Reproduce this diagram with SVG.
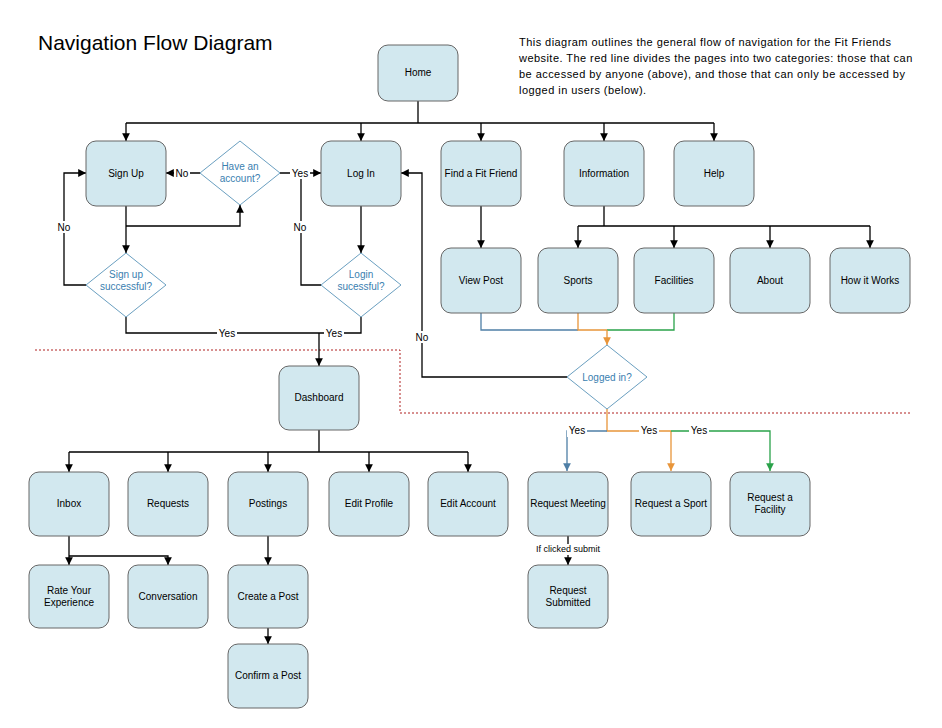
<svg xmlns="http://www.w3.org/2000/svg" width="942" height="728" viewBox="0 0 942 728">
<defs>
<marker id="a" viewBox="0 0 10 10" refX="10" refY="5" markerWidth="6" markerHeight="6" orient="auto"><path d="M0,0L10,5L0,10z" fill="#000"/></marker>
<marker id="ab" viewBox="0 0 10 10" refX="10" refY="5" markerWidth="6" markerHeight="6" orient="auto"><path d="M0,0L10,5L0,10z" fill="#4f7fa6"/></marker>
<marker id="ao" viewBox="0 0 10 10" refX="10" refY="5" markerWidth="6" markerHeight="6" orient="auto"><path d="M0,0L10,5L0,10z" fill="#e8953a"/></marker>
<marker id="ag" viewBox="0 0 10 10" refX="10" refY="5" markerWidth="6" markerHeight="6" orient="auto"><path d="M0,0L10,5L0,10z" fill="#2aa24a"/></marker>
</defs>
<style>
text{font-family:"Liberation Sans",Arial,sans-serif;font-size:10px;fill:#000}
.n rect{fill:#d2e8ef;stroke:#666;stroke-width:1}
.n text{text-anchor:middle}
.d polygon{fill:#fff;stroke:#6a9fc0;stroke-width:1}
.d text{text-anchor:middle;fill:#3a80b0}
.c path{fill:none;stroke:#000;stroke-width:1.3}
.lb{text-anchor:middle;font-size:10px}
.lbg{fill:#fff}
.ds{font-size:11px;letter-spacing:0.45px}
</style>
<rect width="942" height="728" fill="#fff"/>
<text x="38" y="50" style="font-size:21px">Navigation Flow Diagram</text>
<text class="ds" x="519" y="46">This diagram outlines the general flow of navigation for the Fit Friends</text>
<text class="ds" x="519" y="62">website.  The red line divides the pages into two categories: those that can</text>
<text class="ds" x="519" y="78">be accessed by anyone (above), and those that can only be accessed by</text>
<text class="ds" x="519" y="94">logged in users (below).</text>
<path d="M35,350H400V413H912" fill="none" stroke="#b02020" stroke-width="1" stroke-dasharray="2,2"/>

<g class="c" id="connectors">
<path d="M418,101V123M126,123H714M126,123V141" marker-end="url(#a)"/>
<path d="M361,123V141" marker-end="url(#a)"/>
<path d="M481,123V141" marker-end="url(#a)"/>
<path d="M604,123V141" marker-end="url(#a)"/>
<path d="M714,123V141" marker-end="url(#a)"/>
<path d="M200,173H166" marker-end="url(#a)"/>
<path d="M280,173H321" marker-end="url(#a)"/>
<path d="M126,206V253" marker-end="url(#a)"/>
<path d="M126,226H240V205" marker-end="url(#a)"/>
<path d="M86,285H64V173H86" marker-end="url(#a)"/>
<path d="M361,206V253" marker-end="url(#a)"/>
<path d="M321,285H301V173"/>
<path d="M126,317V333H361V317"/>
<path d="M319,333V366" marker-end="url(#a)"/>
<path d="M481,206V248" marker-end="url(#a)"/>
<path d="M604,206V226M578,226H870M578,226V248" marker-end="url(#a)"/>
<path d="M674,226V248" marker-end="url(#a)"/>
<path d="M770,226V248" marker-end="url(#a)"/>
<path d="M870,226V248" marker-end="url(#a)"/>
<path d="M481,313V330H578" style="stroke:#4f7fa6"/>
<path d="M578,313V330H607" style="stroke:#e8953a"/>
<path d="M674,313V330H607" style="stroke:#2aa24a"/>
<path d="M607,330V345" style="stroke:#e8953a" marker-end="url(#ao)"/>
<path d="M567,377H422V173H401" marker-end="url(#a)"/>
<path d="M607,409V431H671" style="stroke:#e8953a"/>
<path d="M671,431V471" style="stroke:#e8953a" marker-end="url(#ao)"/>
<path d="M607,431H567V471" style="stroke:#4f7fa6" marker-end="url(#ab)"/>
<path d="M671,431H770V471" style="stroke:#2aa24a" marker-end="url(#ag)"/>
<path d="M319,430V452M69,452H468M69,452V472" marker-end="url(#a)"/>
<path d="M168,452V472" marker-end="url(#a)"/>
<path d="M268,452V472" marker-end="url(#a)"/>
<path d="M369,452V472" marker-end="url(#a)"/>
<path d="M468,452V472" marker-end="url(#a)"/>
<path d="M69,536V565" marker-end="url(#a)"/>
<path d="M69,556H168V565" marker-end="url(#a)"/>
<path d="M268,536V565" marker-end="url(#a)"/>
<path d="M268,628V644" marker-end="url(#a)"/>
<path d="M568,536V565" marker-end="url(#a)"/>
</g>
<g id="labels">
<rect class="lbg" x="174" y="167" width="16" height="12"/><text class="lb" x="182" y="177">No</text>
<rect class="lbg" x="290" y="167" width="20" height="12"/><text class="lb" x="300" y="177">Yes</text>
<rect class="lbg" x="56" y="221" width="16" height="12"/><text class="lb" x="64" y="231">No</text>
<rect class="lbg" x="292" y="221" width="16" height="12"/><text class="lb" x="300" y="231">No</text>
<rect class="lbg" x="217" y="327" width="20" height="12"/><text class="lb" x="227" y="337">Yes</text>
<rect class="lbg" x="324" y="327" width="20" height="12"/><text class="lb" x="334" y="337">Yes</text>
<rect class="lbg" x="414" y="331" width="16" height="12"/><text class="lb" x="422" y="341">No</text>
<rect class="lbg" x="567" y="425" width="20" height="12"/><text class="lb" x="577" y="434">Yes</text>
<rect class="lbg" x="639" y="425" width="20" height="12"/><text class="lb" x="649" y="434">Yes</text>
<rect class="lbg" x="689" y="425" width="20" height="12"/><text class="lb" x="699" y="434">Yes</text>
<rect class="lbg" x="530" y="544" width="76" height="11"/><text class="lb" x="568" y="552" style="font-size:9px">If clicked submit</text>
</g>

<g class="n" id="home"><rect x="378" y="45" width="80" height="56" rx="10"/><text x="418" y="76">Home</text></g>
<g class="n" id="signup"><rect x="86" y="141" width="80" height="65" rx="10"/><text x="126" y="177">Sign Up</text></g>
<g class="n" id="login"><rect x="321" y="141" width="80" height="65" rx="10"/><text x="361" y="177">Log In</text></g>
<g class="n" id="find"><rect x="441" y="141" width="80" height="65" rx="10"/><text x="481" y="177">Find a Fit Friend</text></g>
<g class="n" id="information"><rect x="564" y="141" width="80" height="65" rx="10"/><text x="604" y="177">Information</text></g>
<g class="n" id="help"><rect x="674" y="141" width="80" height="65" rx="10"/><text x="714" y="177">Help</text></g>
<g class="d" id="haveaccount"><polygon points="240,141 280,173 240,205 200,173"/><text x="240" y="170">Have an</text><text x="240" y="182">account?</text></g>
<g class="d" id="signupok"><polygon points="126,253 166,285 126,317 86,285"/><text x="126" y="278">Sign up</text><text x="126" y="290">successful?</text></g>
<g class="d" id="loginok"><polygon points="361,253 401,285 361,317 321,285"/><text x="361" y="278">Login</text><text x="361" y="290">sucessful?</text></g>
<g class="n" id="viewpost"><rect x="441" y="248" width="80" height="65" rx="10"/><text x="481" y="284">View Post</text></g>
<g class="n" id="sports"><rect x="538" y="248" width="80" height="65" rx="10"/><text x="578" y="284">Sports</text></g>
<g class="n" id="facilities"><rect x="634" y="248" width="80" height="65" rx="10"/><text x="674" y="284">Facilities</text></g>
<g class="n" id="about"><rect x="730" y="248" width="80" height="65" rx="10"/><text x="770" y="284">About</text></g>
<g class="n" id="howitworks"><rect x="830" y="248" width="80" height="65" rx="10"/><text x="870" y="284">How it Works</text></g>
<g class="d" id="loggedin"><polygon points="607,345 647,377 607,409 567,377"/><text x="607" y="381">Logged in?</text></g>
<g class="n" id="dashboard"><rect x="279" y="366" width="80" height="64" rx="10"/><text x="319" y="401">Dashboard</text></g>
<g class="n" id="inbox"><rect x="29" y="472" width="80" height="64" rx="10"/><text x="69" y="507">Inbox</text></g>
<g class="n" id="requests"><rect x="128" y="472" width="80" height="64" rx="10"/><text x="168" y="507">Requests</text></g>
<g class="n" id="postings"><rect x="228" y="472" width="80" height="64" rx="10"/><text x="268" y="507">Postings</text></g>
<g class="n" id="editprofile"><rect x="329" y="472" width="80" height="64" rx="10"/><text x="369" y="507">Edit Profile</text></g>
<g class="n" id="editaccount"><rect x="428" y="472" width="80" height="64" rx="10"/><text x="468" y="507">Edit Account</text></g>
<g class="n" id="reqmeeting"><rect x="528" y="472" width="80" height="64" rx="10"/><text x="568" y="507">Request Meeting</text></g>
<g class="n" id="reqsport"><rect x="631" y="472" width="80" height="64" rx="10"/><text x="671" y="507">Request a Sport</text></g>
<g class="n" id="reqfacility"><rect x="730" y="472" width="80" height="64" rx="10"/><text x="770" y="501">Request a</text><text x="770" y="513">Facility</text></g>
<g class="n" id="rate"><rect x="29" y="565" width="80" height="63" rx="10"/><text x="69" y="594">Rate Your</text><text x="69" y="606">Experience</text></g>
<g class="n" id="conversation"><rect x="128" y="565" width="80" height="63" rx="10"/><text x="168" y="600">Conversation</text></g>
<g class="n" id="createpost"><rect x="228" y="565" width="80" height="63" rx="10"/><text x="268" y="600">Create a Post</text></g>
<g class="n" id="reqsubmitted"><rect x="528" y="565" width="80" height="63" rx="10"/><text x="568" y="594">Request</text><text x="568" y="606">Submitted</text></g>
<g class="n" id="confirmpost"><rect x="228" y="644" width="80" height="64" rx="10"/><text x="268" y="679">Confirm a Post</text></g>
</svg>
